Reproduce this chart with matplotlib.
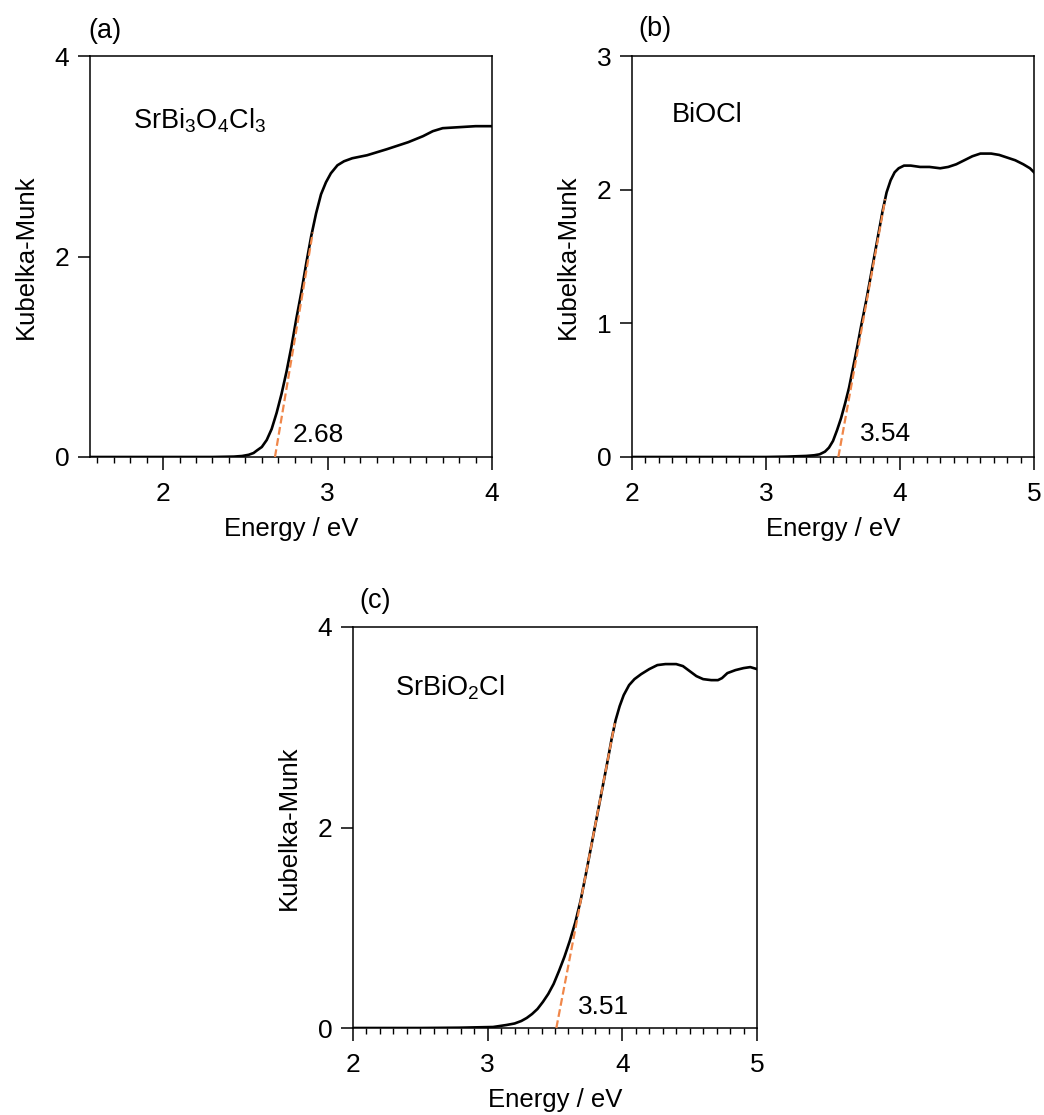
import matplotlib
matplotlib.use("Agg")
import matplotlib.pyplot as plt

plt.rcParams['font.family'] = ['Liberation Sans', 'DejaVu Sans']
plt.rcParams['mathtext.fontset'] = 'custom'
plt.rcParams['mathtext.rm'] = 'Liberation Sans'
plt.rcParams['mathtext.it'] = 'Liberation Sans:italic'
plt.rcParams['mathtext.bf'] = 'Liberation Sans:bold'

# --- data ---
# (a) SrBi3O4Cl3
energy_a = [1.555, 2.0, 2.30, 2.43, 2.48, 2.52, 2.55, 2.57, 2.60, 2.63, 2.66,
            2.69, 2.72, 2.75, 2.78, 2.81, 2.84, 2.87, 2.90, 2.93, 2.96,
            2.99, 3.02, 3.06, 3.10, 3.15, 3.24, 3.36, 3.49, 3.58, 3.64,
            3.70, 3.80, 3.90, 4.0]
km_a = [0.0, 0.0, 0.0, 0.004, 0.010, 0.022, 0.040, 0.065, 0.10, 0.17, 0.28,
        0.44, 0.63, 0.85, 1.10, 1.38, 1.64, 1.93, 2.20, 2.43, 2.62,
        2.74, 2.83, 2.91, 2.95, 2.98, 3.01, 3.07, 3.14, 3.20, 3.25,
        3.28, 3.29, 3.30, 3.30]
fit_a_x = [2.68, 2.91]
fit_a_y = [0.0, 2.24]

# (b) BiOCl
energy_b = [2.0, 2.5, 3.0, 3.16, 3.30, 3.36, 3.40, 3.44, 3.47, 3.50, 3.53,
            3.56, 3.59, 3.62, 3.65, 3.68, 3.71, 3.75, 3.79, 3.83, 3.87,
            3.90, 3.93, 3.96, 3.99, 4.03, 4.08, 4.15, 4.22, 4.30, 4.36,
            4.42, 4.48, 4.54, 4.60, 4.68, 4.74, 4.80, 4.86, 4.92, 4.97, 5.0]
km_b = [0.0, 0.0, 0.0, 0.003, 0.008, 0.013, 0.02, 0.04, 0.07, 0.12, 0.20,
        0.29, 0.40, 0.52, 0.67, 0.82, 0.98, 1.18, 1.40, 1.62, 1.84,
        1.98, 2.07, 2.13, 2.16, 2.18, 2.18, 2.17, 2.17, 2.16, 2.17,
        2.19, 2.22, 2.25, 2.27, 2.27, 2.26, 2.24, 2.22, 2.19, 2.16, 2.13]
fit_b_x = [3.54, 3.89]
fit_b_y = [0.0, 1.93]

# (c) SrBiO2Cl
energy_c = [2.0, 2.5, 2.79, 3.04, 3.14, 3.20, 3.25, 3.29, 3.33, 3.37, 3.41,
            3.45, 3.49, 3.53, 3.57, 3.61, 3.65, 3.69, 3.73, 3.77, 3.81,
            3.85, 3.89, 3.92, 3.95, 3.98, 4.01, 4.05, 4.09, 4.14, 4.20,
            4.26, 4.32, 4.40, 4.45, 4.50, 4.55, 4.60, 4.66, 4.71, 4.74,
            4.78, 4.84, 4.90, 4.95, 5.0]
km_c = [0.0, 0.0, 0.003, 0.01, 0.03, 0.045, 0.07, 0.10, 0.14, 0.19, 0.26,
        0.34, 0.44, 0.57, 0.71, 0.87, 1.05, 1.27, 1.54, 1.82, 2.10,
        2.38, 2.66, 2.88, 3.07, 3.21, 3.32, 3.42, 3.48, 3.53, 3.58,
        3.62, 3.63, 3.63, 3.61, 3.56, 3.51, 3.48, 3.47, 3.47, 3.49,
        3.54, 3.57, 3.59, 3.60, 3.58]
fit_c_x = [3.51, 3.944]
fit_c_y = [0.0, 3.04]

gap_labels = ["2.68", "3.54", "3.51"]
names = [r"SrBi$_3$O$_4$Cl$_3$", "BiOCl", r"SrBiO$_2$Cl"]
panel_tags = ["(a)", "(b)", "(c)"]

ORANGE = '#F0874A'
W, H = 1044, 1115

fig = plt.figure(figsize=(W / 100, H / 100), dpi=100)


def px_axes(left, top, right, bottom):
    return fig.add_axes([left / W, 1 - bottom / H, (right - left) / W, (bottom - top) / H])


def style(ax, xlim, ylim, yticks, xticks):
    ax.set_xlim(*xlim)
    ax.set_ylim(*ylim)
    ax.set_yticks(yticks)
    ax.set_xticks(xticks)
    ax.xaxis.set_minor_locator(matplotlib.ticker.MultipleLocator(0.1))
    for s in ax.spines.values():
        s.set_linewidth(1.1)
    ax.tick_params(axis='x', which='major', direction='out', length=9, width=1.1,
                   pad=9, labelsize=19)
    ax.tick_params(axis='x', which='minor', direction='out', length=4, width=1.0)
    ax.tick_params(axis='y', which='major', direction='out', length=9, width=1.1,
                   pad=6, labelsize=19)
    ax.set_xlabel("Energy / eV", fontsize=18.5)
    ax.set_ylabel("Kubelka-Munk", fontsize=18.5)
    ax.xaxis.set_label_coords(0.5, -0.15)
    ax.yaxis.set_label_coords(-0.13, 0.5)


ax_a = px_axes(90, 56, 492, 457)
ax_b = px_axes(632, 56, 1034, 457)
ax_c = px_axes(353, 627, 757, 1028)

style(ax_a, (1.555, 4.0), (0, 4), [0, 2, 4], [2, 3, 4])
style(ax_b, (2, 5), (0, 3), [0, 1, 2, 3], [2, 3, 4, 5])
style(ax_c, (2, 5), (0, 4), [0, 2, 4], [2, 3, 4, 5])

series = [
    (ax_a, energy_a, km_a, fit_a_x, fit_a_y),
    (ax_b, energy_b, km_b, fit_b_x, fit_b_y),
    (ax_c, energy_c, km_c, fit_c_x, fit_c_y),
]
for ax, ex, ky, fx, fy in series:
    ax.plot(ex, ky, color='black', lw=1.9, solid_joinstyle='round', zorder=3)
    ax.plot(fx, fy, color=ORANGE, lw=1.6, linestyle=(0, (3.5, 1.6)), zorder=4,
            clip_on=False)

# gap values, compound names, panel tags
gap_pos = [(0.505, 0.038), (0.567, 0.040), (0.557, 0.035)]
name_pos = [(0.107, 0.82), (0.10, 0.835), (0.104, 0.83)]
tag_pos = [(-0.005, 1.062), (0.015, 1.067), (0.015, 1.065)]
for ax, g, gp, n, npos, t, tp in zip([ax_a, ax_b, ax_c], gap_labels, gap_pos,
                                     names, name_pos, panel_tags, tag_pos):
    ax.text(gp[0], gp[1], g, transform=ax.transAxes, fontsize=19, va='baseline')
    ax.text(npos[0], npos[1], n, transform=ax.transAxes, fontsize=19.5, va='baseline')
    ax.text(tp[0], tp[1], t, transform=ax.transAxes, fontsize=19.5, va='center')

fig.savefig("out.png", dpi=100)
